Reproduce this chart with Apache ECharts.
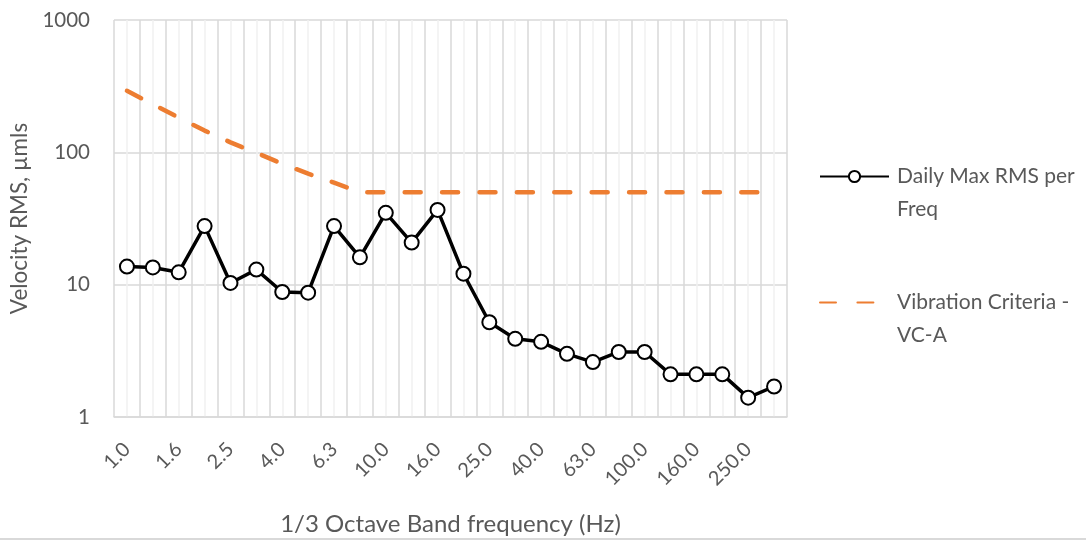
<!DOCTYPE html>
<html>
<head>
<meta charset="utf-8">
<script src="https://cdn.jsdelivr.net/npm/echarts@6/dist/echarts.min.js"></script>
<style>html,body{margin:0;padding:0;background:#fff;}#c{width:1086px;height:541px;}</style>
</head>
<body>
<div id="c"></div>
<script>
const bands = ["1.0","1.25","1.6","2.0","2.5","3.15","4.0","5.0","6.3","8.0","10.0","12.5","16.0","20.0","25.0","31.5","40.0","50.0","63.0","80.0","100.0","125.0","160.0","200.0","250.0","315.0"];
const dailyMax = [13.7,13.5,12.4,27.7,10.3,13.0,8.8,8.7,27.7,16.1,34.9,20.8,36.7,12.1,5.2,3.9,3.7,3.0,2.6,3.1,3.1,2.1,2.1,2.1,1.4,1.7];
const vcA = [292,231,183,146,119,99,82,69,59,50,50,50,50,50,50,50,50,50,50,50,50,50,50,50,50,50];
const yTicks = [1,10,100,1000];
const seriesNames = ["Daily Max RMS per Freq","Vibration Criteria - VC-A"];
const legendLabels = {"Daily Max RMS per Freq":" \nDaily Max RMS per\nFreq","Vibration Criteria - VC-A":" \nVibration Criteria -\nVC-A"};

const FONT = "Lato";
const TXT = "#595959";
const chart = echarts.init(document.getElementById('c'), null, {renderer:'canvas'});
const legendCommon = {
  orient:'vertical', padding:0, itemWidth:69, itemHeight:14,
  formatter: n => legendLabels[n],
  textStyle:{fontFamily:FONT, fontSize:21, color:TXT, lineHeight:33, padding:[0,0,0,3]}
};
chart.setOption({
  animation:false,
  backgroundColor:'#fff',
  grid:{left:114, right:299, top:20, bottom:119.5, containLabel:false},
  legend:[
    Object.assign({left:819, top:127, data:[seriesNames[0]]}, legendCommon),
    Object.assign({left:819, top:253, data:[{name:seriesNames[1], itemStyle:{opacity:0}}]}, legendCommon)
  ],
  xAxis:[{
    type:'category', data:bands, boundaryGap:true,
    name:'1/3 Octave Band frequency (Hz)', nameLocation:'middle', nameGap:95,
    nameTextStyle:{fontFamily:FONT, fontSize:24, color:TXT},
    axisLine:{show:true, lineStyle:{color:'#d9d9d9', width:1.5}},
    axisTick:{show:false},
    axisLabel:{interval:1, rotate:45, margin:29, padding:[14,0,0,0], fontFamily:FONT, fontSize:20, color:TXT},
    splitLine:{show:false}
  },{
    type:'value', min:0, max:52, interval:1, position:'bottom',
    axisLine:{show:false}, axisTick:{show:false}, axisLabel:{show:false},
    splitLine:{show:true, lineStyle:{color:['#d9d9d9','#f0f0f0'], width:1.5}}
  }],
  yAxis:{
    type:'log', logBase:10, min:yTicks[0], max:yTicks[yTicks.length-1],
    name:'Velocity RMS, µmls', nameLocation:'middle', nameGap:80,
    nameTextStyle:{fontFamily:FONT, fontSize:22.5, color:TXT},
    axisLine:{show:false}, axisTick:{show:false},
    axisLabel:{margin:24, fontFamily:FONT, fontSize:20.5, color:TXT, formatter: v => String(v)},
    splitLine:{show:true, lineStyle:{color:'#d9d9d9', width:1.5}}
  },
  graphic:[{type:'rect', shape:{x:0, y:538, width:1086, height:2}, style:{fill:'#d9d9d9'}, silent:true}],
  series:[{
    name:seriesNames[0], type:'line', xAxisIndex:0, data:dailyMax,
    symbol:'circle', symbolSize:14,
    lineStyle:{color:'#000', width:3.5},
    itemStyle:{color:'#fff', borderColor:'#000', borderWidth:2},
    z:3
  },{
    name:seriesNames[1], type:'line', xAxisIndex:0, data:vcA,
    symbol:'none',
    lineStyle:{color:'#ED7D31', width:4.5, type:[16,21.4], cap:'round'},
    itemStyle:{color:'#ED7D31'},
    z:2
  }]
});
</script>
</body>
</html>
